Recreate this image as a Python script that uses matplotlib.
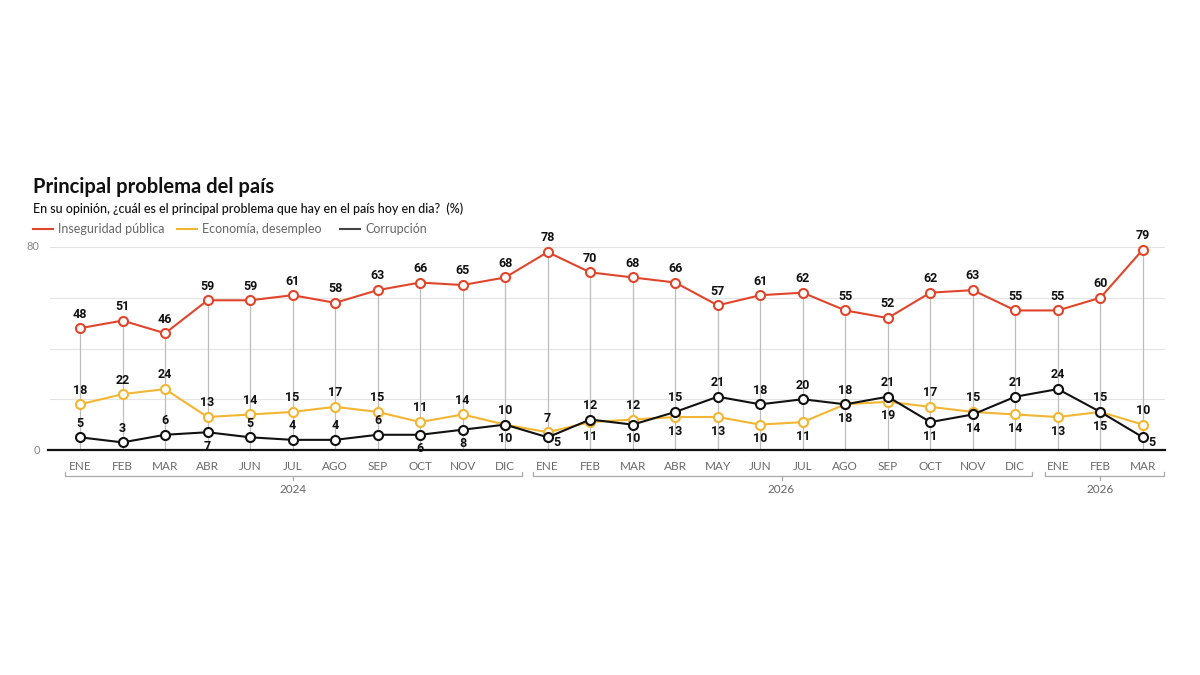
import matplotlib
matplotlib.use("Agg")
import matplotlib.pyplot as plt
import numpy as np

# Data
months = ["ENE", "FEB", "MAR", "ABR", "JUN", "JUL", "AGO", "SEP", "OCT", "NOV", "DIC",
          "ENE", "FEB", "MAR", "ABR", "MAY", "JUN", "JUL", "AGO", "SEP", "OCT", "NOV", "DIC",
          "ENE", "FEB", "MAR"]
inseguridad = [48, 51, 46, 59, 59, 61, 58, 63, 66, 65, 68,
               78, 70, 68, 66, 57, 61, 62, 55, 52, 62, 63, 55,
               55, 60, 79]
economia = [18, 22, 24, 13, 14, 15, 17, 15, 11, 14, 10,
            7, 11, 12, 13, 13, 10, 11, 18, 19, 17, 15, 14,
            13, 15, 10]
corrupcion = [5, 3, 6, 7, 5, 4, 4, 6, 6, 8, 10,
              5, 12, 10, 15, 21, 18, 20, 18, 21, 11, 14, 21,
              24, 15, 5]
years = ["2024", "2026", "2026"]
group_sizes = [11, 12, 3]

# label side: 1 above the point, -1 below
eco_side = [1] * 11 + [1, -1, 1, -1, -1, -1, -1, -1, -1, 1, 1, -1, -1, 1, 1]
cor_side = [1, 1, 1, -1, 1, 1, 1, 1, -1, -1, -1,
            -1, 1, -1, 1, 1, 1, 1, 1, 1, -1, -1, 1, 1, -1, -1]

RED = "#e0452c"
YELLOW = "#f2b632"
BLACK = "#111111"
GRID = "#e4e4e4"
VLINE = "#bdbdbd"
FONT = "Lato"
NUMFONT = "Roboto"

fig = plt.figure(figsize=(12, 6.75), dpi=100)
ax = fig.add_axes([50 / 1200, 1 - 450 / 675, 1115 / 1200, 88 * 2.5375 / 675])
x = np.arange(len(months))
ax.set_xlim(-0.706, 25.52)
ax.set_ylim(0, 88)
ax.axis("off")

# gridlines
for g in [20, 40, 60, 80]:
    ax.axhline(g, color=GRID, lw=0.8, zorder=0)
ax.text(-0.95, 80, "80", ha="right", va="center", fontsize=8, color="#888888", family=FONT)
ax.text(-0.95, 0, "0", ha="right", va="center", fontsize=8, color="#888888", family=FONT)

# vertical drop lines
ax.vlines(x, 0, inseguridad, color=VLINE, lw=0.9, zorder=1)
ax.plot([-0.75, 25.52], [0, 0], color=BLACK, lw=1.6, clip_on=False, zorder=2)

mk = dict(marker="o", markersize=6.5, markerfacecolor="white", markeredgewidth=1.5,
          lw=1.5, clip_on=False)
ax.plot(x, economia, color=YELLOW, zorder=3, **mk)
ax.plot(x, corrupcion, color=BLACK, zorder=4, **mk)
ax.plot(x, inseguridad, color=RED, zorder=5, **mk)

lbl = dict(ha="center", fontsize=9, fontweight="bold", family=NUMFONT, color=BLACK, zorder=6)
for i, v in enumerate(inseguridad):
    ax.annotate(str(v), (i, v), xytext=(0, 5.5), textcoords="offset points", va="bottom", **lbl)
for i, v in enumerate(economia):
    s = eco_side[i]
    ax.annotate(str(v), (i, v), xytext=(0, 5.5 * s), textcoords="offset points",
                va="bottom" if s > 0 else "top", **lbl)
for i, v in enumerate(corrupcion):
    s = cor_side[i]
    if s < 0 and v <= 5:
        # small values sit to the lower right of the point
        ax.annotate(str(v), (i, v), xytext=(6.5, -4), textcoords="offset points",
                    va="center", **lbl)
    else:
        ax.annotate(str(v), (i, v), xytext=(0, 5.5 * s), textcoords="offset points",
                    va="bottom" if s > 0 else "top", **lbl)

# month labels
for i, m in enumerate(months):
    ax.text(i, -6.6, m, ha="center", va="center", fontsize=8.5, color="#6a6a6a",
            family=FONT, clip_on=False)

# year brackets
start = 0
spans = [(-0.35, 10.4), (10.65, 22.4), (22.7, 25.5)]
for (a, b), yr, n in zip(spans, years, group_sizes):
    mid = start + (n - 1) / 2
    ax.plot([a, a, b, b], [-8.6, -10.3, -10.3, -8.6], color="#aaaaaa", lw=0.9, clip_on=False)
    ax.plot([mid, mid], [-10.3, -12.0], color="#aaaaaa", lw=0.9, clip_on=False)
    ax.text(mid, -15.6, yr, ha="center", va="center", fontsize=8.5, color="#666666",
            family=FONT, clip_on=False)
    start += n

# title, subtitle, legend
fig.text(33 / 1200, 1 - 187 / 675, "Principal problema del país", fontsize=14.5, fontweight="bold",
         family=FONT, color="#111111", va="center")
fig.text(33 / 1200, 1 - 209 / 675,
         "En su opinión, ¿cuál es el principal problema que hay en el país hoy en dia?  (%)",
         fontsize=9, family=FONT, color="#111111", va="center", fontweight="medium")
legend_items = [("Inseguridad pública", RED, 33), ("Economía, desempleo", YELLOW, 177),
                ("Corrupción", "#444444", 340)]
for name, col, px in legend_items:
    yy = 1 - 229 / 675
    fig.add_artist(plt.Line2D([px / 1200, (px + 20) / 1200], [yy, yy], color=col, lw=1.5))
    fig.text((px + 25) / 1200, yy, name, fontsize=9, family=FONT, color="#666666", va="center")

fig.savefig("out.png", dpi=100, facecolor="white")
